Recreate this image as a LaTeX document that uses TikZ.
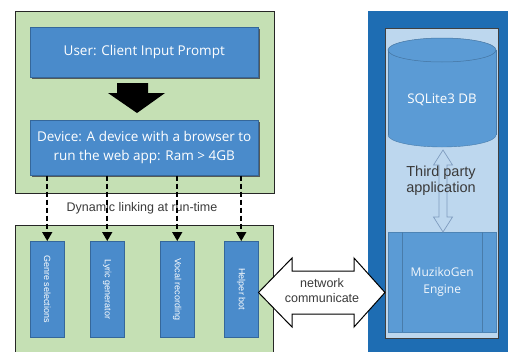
\documentclass[tikz,border=0pt]{standalone}
\usepackage{fontspec}
\setmainfont{Liberation Sans}
\newfontfamily\osans{Open Sans}
\usetikzlibrary{arrows.meta,shadows}
\definecolor{gfill}{HTML}{C5E0B4}
\definecolor{bbox}{HTML}{4A8BCB}
\definecolor{bborder}{HTML}{35679A}
\definecolor{dblue}{HTML}{1E6DB3}
\definecolor{lblue}{HTML}{BDD7EE}
\definecolor{cyl}{HTML}{5B9BD5}
\definecolor{txtgray}{HTML}{3A3A3A}
\definecolor{arrgray}{HTML}{7F9CBF}
\begin{document}
\begin{tikzpicture}[x=1pt,y=-1pt,
  greenbox/.style={draw=black!85, line width=1pt, fill=gfill, anchor=north west, inner sep=0pt},
  bluebox/.style={draw=bborder, fill=bbox, line width=0.5pt, anchor=north west, text=white,
     align=center, inner sep=0pt, drop shadow={shadow xshift=1.5pt, shadow yshift=-1.5pt, fill=black!70, opacity=0.9}},
  vbox/.style={draw=bborder, fill=bbox, line width=0.5pt, anchor=north west, text=white,
     minimum width=34pt, minimum height=96pt, inner sep=0pt,
     font=\fontsize{9}{10}\selectfont, drop shadow={shadow xshift=1.2pt, shadow yshift=-1.2pt, fill=black!70, opacity=0.9}},
  dasharrow/.style={dash pattern=on 5pt off 3pt, line width=1.6pt, -{Triangle[length=9pt,width=10pt]}},
  hollow/.style={draw=black, line width=1pt, fill=white},
  thinhollow/.style={draw=arrgray, line width=0.7pt, fill=lblue},
  labeltext/.style={font=\fontsize{12.5}{15}\selectfont, text=txtgray, align=center}
]
\useasboundingbox (0,0) rectangle (508,351);

% ---- left top green panel
\node[greenbox, minimum width=259pt, minimum height=182pt] (top) at (15,11) {};
\node[bluebox, minimum width=228pt, minimum height=50pt, font=\osans\fontsize{13.5}{16}\selectfont] (user) at (30,27) {User: Client Input Prompt};
\node[bluebox, minimum width=228pt, minimum height=55pt, font=\osans\fontsize{13.5}{19}\selectfont] (device) at (30,120) {Device: A device with a browser to\\run the web app: Ram > 4GB};
\fill[black] (117,83) -- (148,83) -- (148,93) -- (165,93) -- (137,113) -- (108,93) -- (117,93) -- cycle;

% ---- left bottom green panel
\node[greenbox, minimum width=258pt, minimum height=130pt] (bottom) at (15,225) {};
\node[vbox] (genre) at (30,241) {\rotatebox{-90}{Genre selections}};
\node[vbox] (lyric) at (90,241) {\rotatebox{-90}{Lyric generator}};
\node[vbox] (vocal) at (160,241) {\rotatebox{-90}{Vocal recording}};
\node[vbox] (helper) at (224,241) {\rotatebox{-90}{Helper bot}};

\node[labeltext] (dyn) at (142,208) {Dynamic linking at run-time};
\foreach \n in {genre,lyric,vocal,helper}{
  \draw[dasharrow] (device.south -| \n.north) -- (\n.north);
}

% ---- right blue panel
\node[fill=dblue, anchor=north west, minimum width=142pt, minimum height=345pt, inner sep=0pt] (server) at (368,11) {};
\node[draw=black!75, line width=0.8pt, fill=lblue, anchor=north west, minimum width=113pt, minimum height=310pt, inner sep=0pt] (app) at (385,28) {};

% cylinder
\fill[cyl] (388,50) rectangle (496,135);
\fill[cyl] (442,135) ellipse [x radius=54, y radius=12];
\draw[cyl!80!black, line width=0.4pt] (388,50) -- (388,135);
\draw[cyl!80!black, line width=0.4pt] (496,50) -- (496,135);
\draw[cyl!80!black, line width=0.4pt] (496,135) arc[start angle=0, end angle=-180, x radius=54, y radius=-12];
\draw[cyl!75!black, line width=0.5pt, fill=cyl] (442,50) ellipse [x radius=54, y radius=12];
\node[text=white, font=\osans\fontsize{13.3}{16}\selectfont] (db) at (442,100) {SQLite3 DB};
\coordinate (dbbot) at (443,150);

% engine
\node[fill=cyl, draw=cyl!85!black, line width=0.4pt, anchor=north west, minimum width=108pt, minimum height=100pt, inner sep=0pt,
  text=white!92!cyl, font=\osans\fontsize{12}{17}\selectfont, align=center] (engine) at (388,232) {MuzikoGen\\Engine};
\draw[cyl!80!black, line width=0.4pt] ([xshift=14pt]engine.north west) -- ([xshift=14pt]engine.south west);
\draw[cyl!80!black, line width=0.4pt] ([xshift=-14pt]engine.north east) -- ([xshift=-14pt]engine.south east);

% vertical hollow double arrow
\draw[thinhollow] (dbbot) -- (452.5,165) -- (447,165) -- (447,217) -- (452.5,217) -- (engine.north -| dbbot)
  -- (433.5,217) -- (439,217) -- (439,165) -- (433.5,165) -- cycle;
\node[font=\fontsize{14.5}{16}\selectfont, text=txtgray, align=center] (third) at (441,181) {Third party\\application};

% network hollow double arrow
\draw[hollow] (helper.east |- 0,292.5) -- (292,258) -- (292,271) -- (354,271) -- (354,258) -- (app.west |- 0,292.5)
  -- (354,327) -- (354,314) -- (292,314) -- (292,327) -- cycle;
\node[labeltext] (net) at (322,291) {network\\communicate};
\end{tikzpicture}
\end{document}
